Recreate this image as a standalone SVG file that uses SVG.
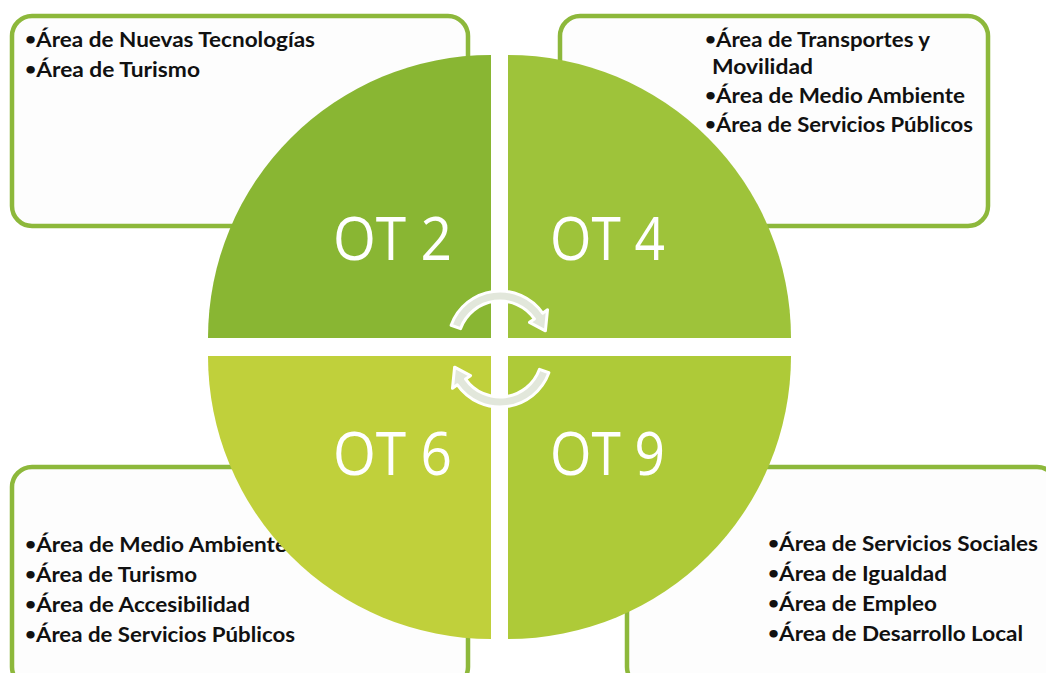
<svg xmlns="http://www.w3.org/2000/svg" width="1046" height="673" viewBox="0 0 1046 673">
<style>
.box{fill:#fdfdfd;stroke:#8db83b;stroke-width:4.5}
.item{font-family:Lato,"Open Sans","Liberation Sans",sans-serif;font-weight:700;font-size:20px;fill:#111111}
.b{font-size:17px;baseline-shift:2px}
.ot{font-family:"Open Sans","Noto Sans","Liberation Sans",sans-serif;font-weight:400;font-size:60px;fill:#ffffff}
.cyc{fill:#e2e7db;stroke:#ffffff;stroke-width:3;stroke-linejoin:round}
</style>
<rect width="1046" height="673" fill="#ffffff"/>
<g id="ot2-box">
<rect class="box" x="12" y="16" width="456" height="210" rx="20"/>
<text class="item" x="25" y="47" textLength="290" lengthAdjust="spacingAndGlyphs"><tspan class="b">•</tspan>Área de Nuevas Tecnologías</text>
<text class="item" x="25" y="77" textLength="175" lengthAdjust="spacingAndGlyphs"><tspan class="b">•</tspan>Área de Turismo</text>
</g>
<g id="ot4-box">
<rect class="box" x="560" y="16" width="428" height="210" rx="20"/>
<text class="item" x="705" y="47" textLength="225" lengthAdjust="spacingAndGlyphs"><tspan class="b">•</tspan>Área de Transportes y</text>
<text class="item" x="712" y="74" textLength="101" lengthAdjust="spacingAndGlyphs">Movilidad</text>
<text class="item" x="705" y="103" textLength="260" lengthAdjust="spacingAndGlyphs"><tspan class="b">•</tspan>Área de Medio Ambiente</text>
<text class="item" x="705" y="132" textLength="268" lengthAdjust="spacingAndGlyphs"><tspan class="b">•</tspan>Área de Servicios Públicos</text>
</g>
<g id="ot6-box">
<rect class="box" x="12" y="467" width="456" height="220" rx="20"/>
<text class="item" x="25" y="552" textLength="262" lengthAdjust="spacingAndGlyphs"><tspan class="b">•</tspan>Área de Medio Ambiente</text>
<text class="item" x="25" y="582" textLength="172" lengthAdjust="spacingAndGlyphs"><tspan class="b">•</tspan>Área de Turismo</text>
<text class="item" x="25" y="612" textLength="225" lengthAdjust="spacingAndGlyphs"><tspan class="b">•</tspan>Área de Accesibilidad</text>
<text class="item" x="25" y="642" textLength="270" lengthAdjust="spacingAndGlyphs"><tspan class="b">•</tspan>Área de Servicios Públicos</text>
</g>
<g id="ot9-box">
<rect class="box" x="627" y="467" width="430" height="220" rx="20"/>
<text class="item" x="768" y="551" textLength="270" lengthAdjust="spacingAndGlyphs"><tspan class="b">•</tspan>Área de Servicios Sociales</text>
<text class="item" x="768" y="581" textLength="179" lengthAdjust="spacingAndGlyphs"><tspan class="b">•</tspan>Área de Igualdad</text>
<text class="item" x="768" y="611" textLength="169" lengthAdjust="spacingAndGlyphs"><tspan class="b">•</tspan>Área de Empleo</text>
<text class="item" x="768" y="641" textLength="255" lengthAdjust="spacingAndGlyphs"><tspan class="b">•</tspan>Área de Desarrollo Local</text>
</g>
<g id="ot2">
<path d="M491 338 L208 338 A283 283 0 0 1 491 55 Z" fill="#89b633"/>
<text class="ot" x="333" y="260" textLength="119" lengthAdjust="spacingAndGlyphs">OT 2</text>
</g>
<g id="ot4">
<path d="M508 338 L508 55 A283 283 0 0 1 791 338 Z" fill="#9ec33a"/>
<text class="ot" x="550" y="260" textLength="115" lengthAdjust="spacingAndGlyphs">OT 4</text>
</g>
<g id="ot6">
<path d="M491 356 L491 639 A283 283 0 0 1 208 356 Z" fill="#c0d03b"/>
<text class="ot" x="333" y="475" textLength="119" lengthAdjust="spacingAndGlyphs">OT 6</text>
</g>
<g id="ot9">
<path d="M508 356 L791 356 A283 283 0 0 1 508 639 Z" fill="#aeca38"/>
<text class="ot" x="550" y="475" textLength="115" lengthAdjust="spacingAndGlyphs">OT 9</text>
</g>
<g id="connectors">
<path class="cyc" d="M451.14 325.22 A52 52 0 0 1 542.60 313.17 L547.51 309.73 L545.40 330.84 L529.49 322.35 L534.41 318.91 A42 42 0 0 0 460.53 328.64 Z"/>
<path class="cyc" d="M548.86 372.78 A52 52 0 0 1 457.40 384.83 L452.49 388.27 L454.60 367.16 L470.51 375.65 L465.59 379.09 A42 42 0 0 0 539.47 369.36 Z"/>
</g>
</svg>
